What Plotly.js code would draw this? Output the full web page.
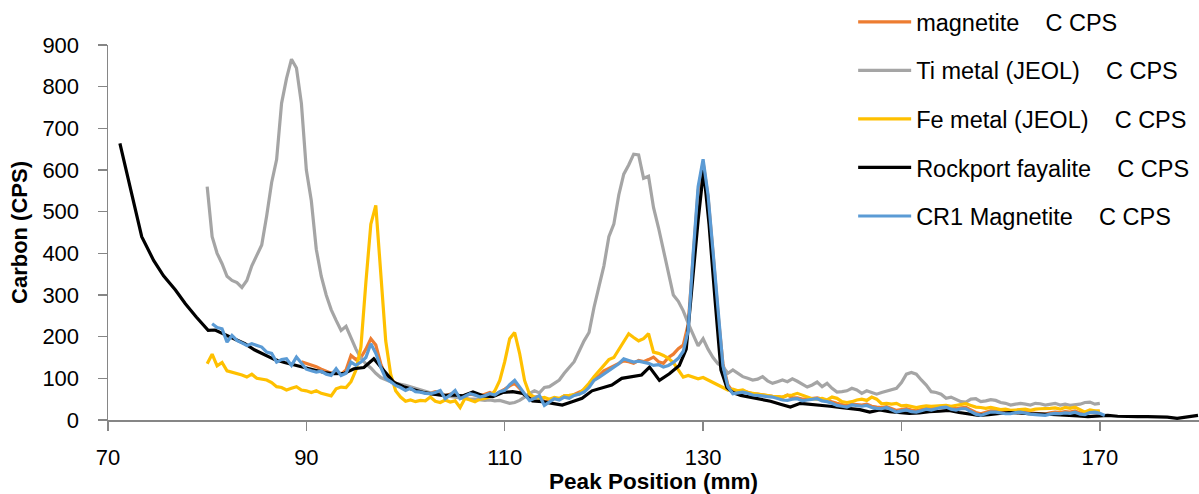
<!DOCTYPE html>
<html>
<head>
<meta charset="utf-8">
<script src="https://cdn.plot.ly/plotly-3.0.1.min.js"></script>
<style>
  html, body { margin: 0; padding: 0; background: #fff; }
  #chart { width: 1199px; height: 494px; }
</style>
</head>
<body>
<div id="chart"></div>
<script>
// Series names (legend labels)
const seriesNames = [
  "magnetite    C CPS",
  "Ti metal (JEOL)    C CPS",
  "Fe metal (JEOL)    C CPS",
  "Rockport fayalite    C CPS",
  "CR1 Magnetite    C CPS"
];

// Sampled spectra: evenly spaced points (start position and step, mm)
const magnetiteStart = 89.5, tiStart = 80, feStart = 80, cr1Start = 80.5, stepMM = 0.5;

const magnetiteCPS = [
  140,136,130,128,122,116,112,118,110,120,155,145,150,170,195,180,135,105,96,87,
  80,76,78,72,70,66,64,68,66,58,62,66,56,60,62,60,58,62,66,60,
  66,74,82,88,76,60,52,55,56,44,46,52,50,58,56,62,66,72,82,96,
  106,118,124,130,138,142,140,136,143,140,145,151,140,136,150,158,171,180,230,395,
  550,618,535,400,255,135,84,68,70,70,66,63,62,60,58,57,56,54,60,54,
  53,50,50,52,53,50,46,43,40,37,34,38,37,36,38,33,31,30,32,28,
  23,25,27,24,22,25,28,27,30,32,33,29,27,29,30,24,18,15,19,22,
  22,20,18,18,21,22,19,17,16,15,14,17,19,18,20,19,22,17,16,20,
  21,19
];

const tiMetalCPS = [
  560,440,400,375,345,335,330,318,335,370,395,420,490,570,625,760,820,866,845,760,
  600,526,410,345,300,265,239,215,225,195,170,148,135,125,112,102,96,92,88,86,
  83,80,76,72,68,66,62,60,58,56,55,53,52,50,50,48,47,48,46,47,
  44,40,42,47,55,64,70,65,78,80,88,96,112,125,140,165,190,210,270,320,
  370,440,470,540,590,612,638,636,580,585,510,462,410,350,300,285,262,232,205,178,
  195,170,150,135,128,112,120,112,104,100,96,98,104,94,88,92,96,92,99,93,
  86,79,84,91,80,88,76,67,68,70,76,72,64,70,66,62,66,70,72,76,
  90,110,114,110,96,84,68,66,62,52,55,50,44,43,50,51,44,46,49,47,
  42,40,36,38,40,38,36,40,39,36,38,40,36,38,35,36,38,42,43,38,
  40
];

const feMetalCPS = [
  135,158,130,138,118,115,112,108,103,110,100,98,96,90,80,78,72,76,80,72,
  70,66,70,64,60,58,75,79,78,92,120,175,330,470,515,360,190,110,70,55,
  45,48,44,47,46,55,45,42,48,43,46,30,52,48,44,50,52,56,70,95,
  140,195,210,160,95,62,55,52,54,50,54,52,58,59,60,62,75,88,104,118,
  130,145,150,170,190,207,198,190,195,207,163,160,155,148,138,119,103,107,102,99,
  102,96,90,82,76,72,74,70,72,66,64,62,60,58,57,56,55,59,60,64,
  60,56,51,50,52,48,55,52,44,42,44,48,50,47,55,50,39,40,38,40,
  34,35,33,30,32,34,33,34,35,35,33,35,36,39,35,31,30,28,30,27,
  25,26,23,24,25,26,23,26,27,27,28,29,26,30,28,31,26,19,24,22,
  22
];

const cr1MagnetiteCPS = [
  231,222,219,187,203,191,185,179,183,178,175,163,160,139,145,147,131,151,135,122,
  118,115,117,110,107,123,107,112,139,131,139,150,183,160,127,100,92,83,78,71,
  76,68,67,64,63,66,71,51,60,71,51,58,63,60,55,58,63,60,68,71,
  85,95,79,62,47,52,59,35,42,51,48,55,52,59,62,67,78,95,102,111,
  118,127,135,147,143,139,141,139,136,131,133,127,131,138,148,165,215,400,560,626,
  540,405,260,130,80,63,65,67,64,60,59,57,56,55,52,48,47,50,51,46,
  48,50,51,46,44,40,35,33,31,36,35,33,35,30,28,27,30,25,19,22,
  24,20,19,22,26,24,28,30,31,26,24,27,27,20,14,11,16,19,19,17,
  15,15,18,19,16,14,13,12,11,14,16,15,17,16,19,14,13,18,19,16,
  11
];

// Rockport fayalite: irregularly spaced positions
const fayalitePos = [
  71.2,72.3,73.4,74.6,75.6,76.8,77.8,78.9,80.1,80.8,81.8,82.8,83.8,84.8,85.8,86.8,87.8,88.8,89.8,90.8,
  91.8,92.8,93.8,94.8,95.8,96.8,97.8,98.8,99.8,100.8,101.8,102.8,103.8,104.8,105.8,106.8,107.8,108.8,109.8,110.8,
  111.8,112.8,113.8,114.8,115.8,116.8,117.8,118.8,119.8,120.8,121.8,122.8,123.8,124.6,125.6,126.6,127.6,128.3,128.9,129.5,
  130.05,130.6,131.2,131.8,132.4,133.0,133.8,134.8,135.8,136.8,137.8,138.8,139.8,140.8,141.8,142.8,143.8,144.8,145.8,146.8,
  147.8,148.8,149.8,150.8,151.8,152.8,153.8,154.8,155.8,156.8,157.8,158.8,159.8,160.8,161.8,162.8,163.8,164.8,165.8,166.8,
  167.8,168.8,169.8,170.8,171.8,172.8,173.8,174.8,175.8,176.8,177.8,178.8,179.9
];
const fayaliteCPS = [
  664,551,440,383,346,312,279,247,215,216,205,193,183,168,156,145,138,132,126,121,
  114,111,112,123,126,147,118,91,80,72,66,62,59,60,58,67,58,56,66,68,
  64,46,44,40,36,44,52,70,77,84,100,104,108,127,95,111,131,170,330,480,
  600,470,290,120,78,66,59,54,50,45,38,31,40,38,36,33,30,28,25,19,
  24,20,18,16,17,20,21,23,18,14,11,13,16,18,17,15,15,14,13,12,
  10,8,9,11,9,8,8,8,8,7,4,8,11
];

// Axis ticks
const xTicks = [70, 90, 110, 130, 150, 170];
const yTicks = [0, 100, 200, 300, 400, 500, 600, 700, 800, 900];

const colors = ["#ED7D31", "#A5A5A5", "#FFC000", "#000000", "#5B9BD5"];
const FONT = "Liberation Sans, Arial, Helvetica, sans-serif";

function lineTrace(i, extra) {
  return Object.assign({
    type: "scatter", mode: "lines", name: seriesNames[i],
    legendgroup: "g" + i,
    line: { color: colors[i], width: 3.2 },
    hoverinfo: "skip"
  }, extra);
}

const traces = [
  lineTrace(0, { x0: magnetiteStart, dx: stepMM, y: magnetiteCPS }),
  lineTrace(1, { x0: tiStart, dx: stepMM, y: tiMetalCPS }),
  lineTrace(2, { x0: feStart, dx: stepMM, y: feMetalCPS }),
  lineTrace(3, { x: fayalitePos, y: fayaliteCPS }),
  lineTrace(4, { x0: cr1Start, dx: stepMM, y: cr1MagnetiteCPS })
];

const layout = {
  width: 1199, height: 494,
  margin: { l: 108, r: 0, t: 44, b: 74 },
  paper_bgcolor: "#fff", plot_bgcolor: "#fff",
  font: { family: FONT, size: 22, color: "#000" },
  showlegend: true,
  legend: {
    x: 0.683, y: 1.12, xanchor: "left", yanchor: "top",
    bgcolor: "rgba(0,0,0,0)",
    font: { family: FONT, size: 23.5, color: "#000" },
    itemwidth: 53,
    traceorder: "grouped",
    tracegroupgap: 15
  },
  xaxis: {
    range: [70, 180],
    tickvals: xTicks, ticktext: xTicks.map(String),
    ticks: "outside", ticklen: 9, tickwidth: 1.5, tickcolor: "#868686",
    showline: true, linecolor: "#868686", linewidth: 1.5,
    showgrid: false, zeroline: false,
    tickfont: { family: FONT, size: 22, color: "#000" },
    ticklabelstandoff: 8,
    title: { text: "<b>Peak Position (mm)</b>", font: { family: FONT, size: 22.5, color: "#000" }, standoff: 10 },
    automargin: false
  },
  yaxis: {
    range: [0, 900],
    tickvals: yTicks, ticktext: yTicks.map(String),
    ticks: "outside", ticklen: 9, tickwidth: 1.5, tickcolor: "#868686",
    showline: true, linecolor: "#868686", linewidth: 1.5,
    showgrid: false, zeroline: false,
    tickfont: { family: FONT, size: 22, color: "#000" },
    ticklabelstandoff: 14,
    title: { text: "<b>Carbon (CPS)</b>", font: { family: FONT, size: 22, color: "#000" }, standoff: 8 },
    automargin: false
  }
};

Plotly.newPlot("chart", traces, layout, { displayModeBar: false, staticPlot: true });
</script>
</body>
</html>
